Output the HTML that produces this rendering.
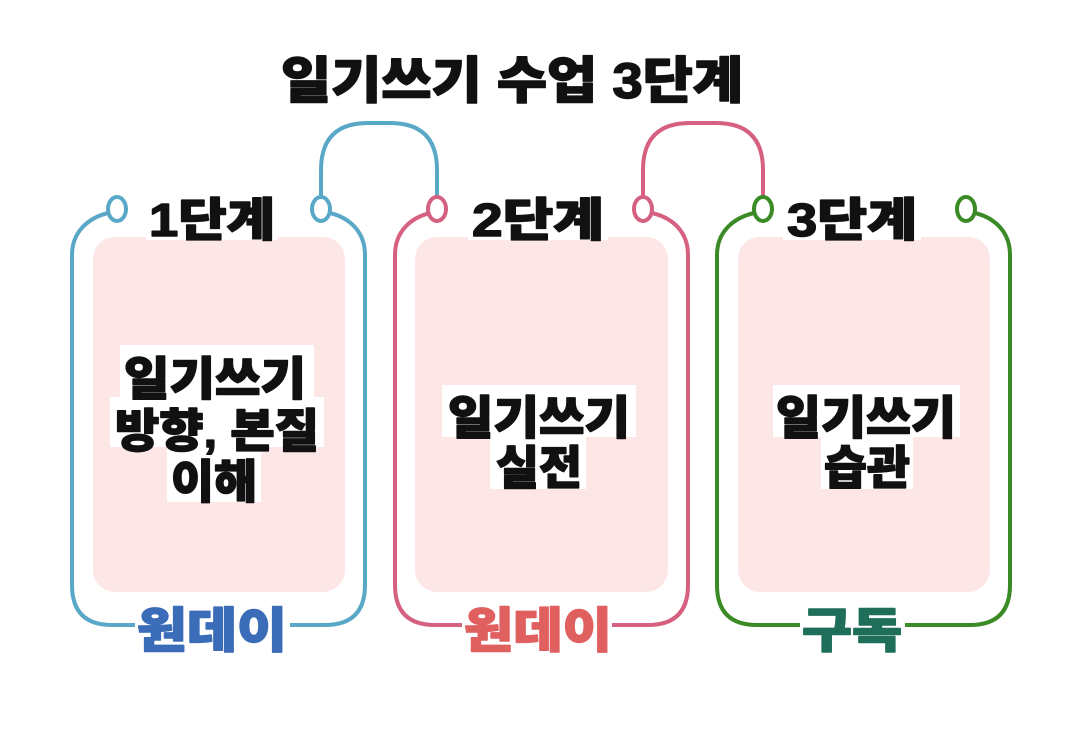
<!DOCTYPE html>
<html><head><meta charset="utf-8"><style>
html,body{margin:0;padding:0;background:#fff;}
svg{display:block}
text{font-family:"Liberation Sans","Noto Sans CJK KR",sans-serif;font-weight:900;stroke-linejoin:round;}
</style></head><body>
<svg width="1079" height="738" viewBox="0 0 1079 738" xmlns="http://www.w3.org/2000/svg">
<rect width="1079" height="738" fill="#fff"/>
<text x="512" y="98" font-size="50" text-anchor="middle" fill="#111" stroke="#111" stroke-width="1.5" textLength="462" lengthAdjust="spacingAndGlyphs">일기쓰기 수업 3단계</text>

<path d="M321,197 L321,170 Q321,123 368,123 L390,123 Q437,123 437,170 L437,197" fill="none" stroke="#5aa8c8" stroke-width="4"/>
<path d="M643,197 L643,170 Q643,123 690,123 L716,123 Q763,123 763,170 L763,197" fill="none" stroke="#d6607f" stroke-width="4"/>

<g>
<rect x="93" y="237" width="252" height="355" rx="22" fill="#fde6e6"/>
<path d="M108,213 C88,218 72,232 72,255 L72,585 Q72,625 112,625 L135,625 M290,625 L325,625 Q365,625 365,585 L365,255 C365,232 350,218 330,213" fill="none" stroke="#5aa8c8" stroke-width="4"/>
<ellipse cx="117" cy="209" rx="9" ry="12" fill="#fff" stroke="#5aa8c8" stroke-width="4"/>
<ellipse cx="321" cy="209" rx="9" ry="12" fill="#fff" stroke="#5aa8c8" stroke-width="4"/>
<rect x="146" y="192" width="132" height="48" fill="#fff"/>
<text x="212" y="236" font-size="46" text-anchor="middle" fill="#111" stroke="#111" stroke-width="1.5" textLength="126" lengthAdjust="spacingAndGlyphs">1단계</text>
<rect x="120" y="345" width="194" height="52" fill="#fff"/>
<rect x="110" y="397" width="214" height="50" fill="#fff"/>
<rect x="167" y="447" width="94" height="55" fill="#fff"/>
<text x="215" y="395" font-size="46" text-anchor="middle" fill="#111" stroke="#111" stroke-width="1.5" textLength="182" lengthAdjust="spacingAndGlyphs">일기쓰기</text>
<text x="217" y="447" font-size="46" text-anchor="middle" fill="#111" stroke="#111" stroke-width="1.5" textLength="204" lengthAdjust="spacingAndGlyphs">방향, 본질</text>
<text x="214" y="498" font-size="46" text-anchor="middle" fill="#111" stroke="#111" stroke-width="1.5" textLength="86" lengthAdjust="spacingAndGlyphs">이해</text>
<text x="212" y="647" font-size="48" text-anchor="middle" fill="#3a6cb8" stroke="#3a6cb8" stroke-width="1.5" textLength="150" lengthAdjust="spacingAndGlyphs">원데이</text>
</g>

<g>
<rect x="415" y="237" width="253" height="355" rx="22" fill="#fde6e6"/>
<path d="M430,213 C410,218 395,232 395,255 L395,585 Q395,625 435,625 L462,625 M612,625 L648,625 Q688,625 688,585 L688,255 C688,232 673,218 652,213" fill="none" stroke="#d6607f" stroke-width="4"/>
<ellipse cx="437" cy="209" rx="9" ry="12" fill="#fff" stroke="#d6607f" stroke-width="4"/>
<ellipse cx="643" cy="209" rx="9" ry="12" fill="#fff" stroke="#d6607f" stroke-width="4"/>
<rect x="468" y="192" width="140" height="48" fill="#fff"/>
<text x="538" y="236" font-size="46" text-anchor="middle" fill="#111" stroke="#111" stroke-width="1.5" textLength="132" lengthAdjust="spacingAndGlyphs">2단계</text>
<rect x="442" y="385" width="194" height="52" fill="#fff"/>
<rect x="490" y="437" width="96" height="52" fill="#fff"/>
<text x="539" y="434" font-size="46" text-anchor="middle" fill="#111" stroke="#111" stroke-width="1.5" textLength="182" lengthAdjust="spacingAndGlyphs">일기쓰기</text>
<text x="539" y="484" font-size="46" text-anchor="middle" fill="#111" stroke="#111" stroke-width="1.5" textLength="86" lengthAdjust="spacingAndGlyphs">실전</text>
<text x="538" y="647" font-size="48" text-anchor="middle" fill="#e06060" stroke="#e06060" stroke-width="1.5" textLength="148" lengthAdjust="spacingAndGlyphs">원데이</text>
</g>

<g>
<rect x="738" y="237" width="252" height="355" rx="22" fill="#fde6e6"/>
<path d="M754,213 C733,218 717,232 717,255 L717,585 Q717,625 757,625 L800,625 M905,625 L970,625 Q1010,625 1010,585 L1010,255 C1010,232 995,218 975,213" fill="none" stroke="#3a8a25" stroke-width="4"/>
<ellipse cx="763" cy="209" rx="9" ry="12" fill="#fff" stroke="#3a8a25" stroke-width="4"/>
<ellipse cx="966" cy="209" rx="9" ry="12" fill="#fff" stroke="#3a8a25" stroke-width="4"/>
<rect x="783" y="192" width="138" height="48" fill="#fff"/>
<text x="852" y="236" font-size="46" text-anchor="middle" fill="#111" stroke="#111" stroke-width="1.5" textLength="130" lengthAdjust="spacingAndGlyphs">3단계</text>
<rect x="773" y="385" width="187" height="52" fill="#fff"/>
<rect x="821" y="437" width="92" height="52" fill="#fff"/>
<text x="866" y="434" font-size="46" text-anchor="middle" fill="#111" stroke="#111" stroke-width="1.5" textLength="180" lengthAdjust="spacingAndGlyphs">일기쓰기</text>
<text x="867" y="484" font-size="46" text-anchor="middle" fill="#111" stroke="#111" stroke-width="1.5" textLength="86" lengthAdjust="spacingAndGlyphs">습관</text>
<text x="852" y="647" font-size="48" text-anchor="middle" fill="#1f6e5a" stroke="#1f6e5a" stroke-width="1.5" textLength="100" lengthAdjust="spacingAndGlyphs">구독</text>
</g>
</svg>
</body></html>
